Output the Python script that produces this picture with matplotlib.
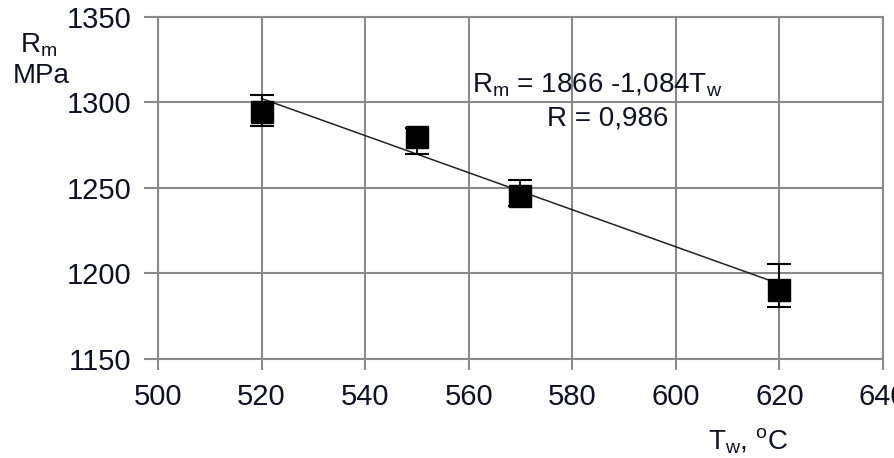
import numpy as np
import matplotlib
matplotlib.use('Agg')
import matplotlib.pyplot as plt

plt.rcParams['font.family'] = ['Liberation Sans', 'DejaVu Sans']
plt.rcParams['mathtext.default'] = 'regular'

# data
temp = [520, 550, 570, 620]
rm = [1294.5, 1280, 1245.5, 1190.5]
err_low = [8, 10, 6, 10]
err_high = [10, 5, 9, 15]

# regression line Rm = a + b*Tw
fit_a = 1866
fit_b = -1.084
fit_range = [520, 620]

x_ticks = [500, 520, 540, 560, 580, 600, 620, 640]
y_ticks = [1150, 1200, 1250, 1300, 1350]

fig = plt.figure(figsize=(8.94, 4.58), dpi=100)
ax = fig.add_axes([0.1767, 0.2162, 0.9877 - 0.1767, 0.9629 - 0.2162])

grid_c = '#8a8a8a'
txt_c = '#111122'
ax.grid(True, color=grid_c, linewidth=1.5)
ax.set_axisbelow(True)
for s in ax.spines.values():
    s.set_color(grid_c)
    s.set_linewidth(1.5)

tx = np.array(fit_range)
ax.plot(tx, fit_a + fit_b * tx, color='#222222', linewidth=1.1, zorder=3)

ax.errorbar(temp, rm, yerr=[err_low, err_high], fmt='s', color='black',
            markersize=15.5, capsize=8.5, elinewidth=1.3, capthick=1.5, zorder=4)

ax.set_xlim(500, 640)
ax.set_ylim(1150, 1350)
ax.set_xticks(x_ticks)
ax.set_yticks(y_ticks)
ax.tick_params(axis='both', color=grid_c, width=1.5, labelsize=21,
               labelcolor=txt_c)
ax.tick_params(axis='y', length=10, pad=9)
ax.tick_params(axis='x', length=8, pad=9)

fig.text(0.022, 0.886, 'R$_m$', fontsize=20, color=txt_c, va='baseline')
fig.text(0.0145, 0.819, 'MPa', fontsize=20, color=txt_c, va='baseline')
fig.text(0.792, 0.0175, 'T$_w$, $^{o}$C', fontsize=20, color=txt_c, va='baseline')

ax.text(560.6, 1306, 'R$_m$ = 1866 -1,084T$_w$', fontsize=20, color=txt_c, va='baseline')
ax.text(575.1, 1286.3, 'R = 0,986', fontsize=20, color=txt_c, va='baseline')

fig.savefig('out.png', dpi=100)
